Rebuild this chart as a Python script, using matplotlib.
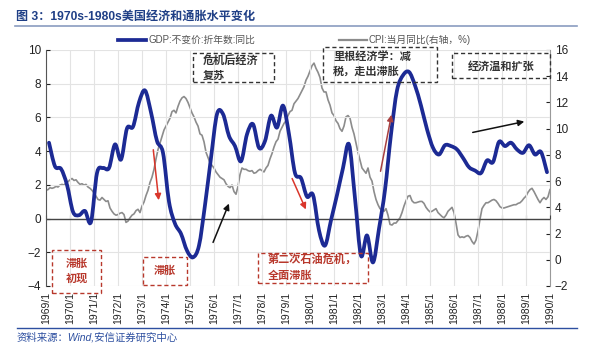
import numpy as np
import matplotlib
matplotlib.use("Agg")
import matplotlib.pyplot as plt
from matplotlib.path import Path
from matplotlib.patches import PathPatch, Rectangle, FancyArrowPatch
from matplotlib.lines import Line2D

plt.rcParams['font.family'] = ['Liberation Sans', 'Noto Sans CJK SC']

# ========================= Data =========================
first_year = 1969
last_year = 1990

# GDP constant price, annualised, yoy (%), quarterly 1969Q1 - 1989Q4
gdp_yoy = [
    4.5, 3.1, 2.95, 2.0,      # 1969
    0.4, 0.2, 0.45, -0.2,     # 1970
    2.7, 3.0, 3.0, 4.4,       # 1971
    3.5, 5.35, 5.45, 6.9,     # 1972
    7.6, 6.3, 4.6, 3.9,       # 1973
    1.0, -0.3, -0.9, -1.9,    # 1974
    -2.3, -1.6, 0.8, 3.6,     # 1975
    6.2, 6.2, 4.9, 4.3,       # 1976
    3.4, 5.0, 5.6, 4.2,       # 1977
    4.6, 6.1, 5.4, 6.7,       # 1978
    5.0, 2.7, 2.4, 1.3,       # 1979
    1.4, -0.7, -1.6, -0.1,    # 1980
    1.4, 3.0, 4.4, 1.2,       # 1981
    -2.2, -1.0, -2.6, -0.6,   # 1982
    1.7, 5.0, 7.6, 8.5,       # 1983
    8.7, 7.9, 6.7, 5.3,       # 1984
    4.2, 3.8, 4.35, 4.3,      # 1985
    4.1, 3.6, 3.05, 2.85,     # 1986
    2.7, 3.45, 3.35, 4.55,    # 1987
    4.3, 4.5, 4.1, 3.9,       # 1988
    4.35, 3.8, 3.95, 2.75,    # 1989
]

# CPI yoy (%), monthly 1969/1 - 1990/1
cpi_yoy = [
    5.3, 5.35, 5.5, 5.45, 5.5, 5.6, 5.55, 5.7, 5.75, 5.7, 5.85, 5.95,
    6.1, 6.2, 6.05, 6.1, 5.9, 5.75, 5.8, 5.7, 5.75, 5.55, 5.45, 5.3,
    5.1, 4.85, 4.6, 4.55, 4.75, 4.6, 4.45, 4.5, 3.95, 3.7, 3.5, 3.4,
    3.45, 3.55, 3.6, 3.45, 2.85, 2.95, 3.2, 3.4, 3.5, 3.75, 3.85, 3.6,
    4.1, 4.4, 4.9, 5.3, 5.9, 6.3, 6.9, 7.7, 8.4, 8.9, 9.4, 9.9,
    10.2, 10.5, 10.8, 11.3, 11.4, 11.2, 11.7, 12.1, 12.35, 12.45, 12.3, 12.0,
    11.6, 11.2, 10.9, 10.5, 10.2, 9.6, 9.5, 9.0, 8.2, 7.8, 7.4, 7.2,
    7.0, 6.7, 6.5, 6.3, 6.2, 6.1, 5.8, 5.6, 5.5, 5.7, 5.2, 5.0,
    5.6, 6.5, 7.0, 6.9, 6.9, 6.8, 6.75, 6.8, 6.6, 6.65, 6.8, 6.9,
    6.8, 6.7, 7.0, 7.2, 7.7, 8.1, 8.6, 9.0, 9.2, 9.8, 10.1, 10.4,
    10.6, 11.0, 11.3, 11.4, 11.9, 12.1, 12.3, 12.6, 12.9, 13.2, 13.7, 14.0,
    14.4, 14.8, 15.0, 14.6, 14.3, 13.9, 13.1, 12.8, 12.8, 12.2, 11.8, 11.2,
    11.0, 10.6, 10.4, 10.0, 9.8, 10.2, 10.9, 11.0, 10.8, 10.1, 9.6, 8.9,
    8.2, 7.6, 7.0, 6.8, 6.6, 7.0, 6.3, 6.0, 5.2, 4.6, 4.2, 3.9,
    3.8, 3.7, 3.9, 3.4, 2.7, 2.65, 2.8, 2.8, 3.0, 3.2, 3.6, 4.1,
    4.5, 4.85, 4.9, 4.5, 4.35, 4.35, 4.4, 4.45, 4.45, 4.3, 4.0, 3.8,
    3.65, 3.7, 3.8, 3.9, 3.6, 3.45, 3.3, 3.2, 3.4, 3.7, 3.85, 4.0,
    3.6, 2.8, 1.9, 1.7, 1.75, 1.7, 1.8, 1.85, 1.7, 1.4, 1.2, 1.5,
    2.2, 3.1, 3.9, 4.15, 4.35, 4.35, 4.45, 4.55, 4.6, 4.5, 4.3, 4.05,
    3.95, 3.95, 4.0, 4.05, 4.1, 4.15, 4.2, 4.2, 4.3, 4.35, 4.5, 4.7,
    4.85, 5.15, 5.35, 5.45, 5.2, 4.9, 4.6, 4.35, 4.6, 4.75, 4.6, 4.8,
    5.35,
]

tick_years = list(range(first_year, last_year + 1))
tick_labels = [f"{y}/1" for y in tick_years]

gdp_label = "GDP:不变价:折年数:同比"
cpi_label = "CPI:当月同比(右轴，%)"

GDP_COLOR = '#1c2a94'
CPI_COLOR = '#8c8c8c'
RED = '#d9362b'
BOX_RED = '#b8382c'


def smooth_path(x, y):
    # Catmull-Rom -> cubic bezier, like a spreadsheet "smoothed line"
    pts = np.column_stack([x, y])
    pad = np.vstack([pts[0], pts, pts[-1]])
    verts = [pts[0]]
    codes = [Path.MOVETO]
    for i in range(1, len(pad) - 2):
        p0, p1, p2, p3 = pad[i - 1], pad[i], pad[i + 1], pad[i + 2]
        verts += [p1 + (p2 - p0) / 6, p2 - (p3 - p1) / 6, p2]
        codes += [Path.CURVE4] * 3
    return Path(verts, codes)


def fig_px(x, y):
    return (x / 600, 1 - y / 355)


# ========================= Plot =========================
fig = plt.figure(figsize=(6, 3.55), dpi=100)
ax = fig.add_axes([46 / 600, 1 - 286 / 355, 504 / 600, 236 / 355])
ax2 = ax.twinx()

gdp_x = np.array([y + (q * 3 + 1.5) / 12 for y in range(first_year, first_year + len(gdp_yoy) // 4) for q in range(4)])
cpi_x = first_year + np.arange(len(cpi_yoy)) / 12

ax2.plot(cpi_x, cpi_yoy, color=CPI_COLOR, lw=1.2, zorder=2)
ax.add_patch(PathPatch(smooth_path(gdp_x, gdp_yoy), fill=False, ec=GDP_COLOR, lw=2.7,
                       capstyle='round', joinstyle='round', zorder=3))
ax.set_zorder(ax2.get_zorder() + 1)
ax.patch.set_visible(False)

ax.set_xlim(first_year, last_year)
ax.set_ylim(-4, 10)
ax.set_yticks(range(-4, 11, 2))
ax2.set_ylim(-2, 16)
ax2.set_yticks(range(-2, 17, 2))

ax.set_xticks(tick_years)
ax.set_xticklabels(tick_labels, rotation=90, fontsize=7.5, color='#222222')
ax.tick_params(axis='x', length=0, pad=4)
ax.tick_params(axis='y', labelsize=8.5, colors='#222222', length=3, direction='in')
ax2.tick_params(axis='y', labelsize=8.5, colors='#222222', length=3, direction='in')

ax.grid(True, color='#e3e3e3', lw=0.8)
ax.set_axisbelow(True)
for sp in ['top', 'bottom']:
    ax.spines[sp].set_visible(False)
    ax2.spines[sp].set_visible(False)
ax.spines['left'].set_color('#555555')
ax2.spines['left'].set_visible(False)
ax2.spines['right'].set_color('#999999')
ax.spines['right'].set_visible(False)

# zero line with year ticks
ax.axhline(0, color='#444444', lw=1.0, zorder=1)
zero_axis = ax.secondary_xaxis(4 / 14)
zero_axis.set_xticks(tick_years)
zero_axis.set_xticklabels([])
zero_axis.tick_params(length=3, color='#444444', direction='in')
zero_axis.spines['bottom'].set_visible(False)

# legend
handles = [Line2D([], [], color=GDP_COLOR, lw=2.7), Line2D([], [], color=CPI_COLOR, lw=1.6)]
fig.legend(handles, [gdp_label, cpi_label], loc='center', ncol=2, frameon=False,
           bbox_to_anchor=(0.491, 1 - 40 / 355), fontsize=7, labelcolor='#555555',
           handlelength=2.9, handletextpad=0.2, columnspacing=8.6)


# annotation boxes (pixel layout: x0, y0, x1, y1)
def note_box(x0, y0, x1, y1, color, lines, tx, ty, ha='left'):
    fx0, fy1 = fig_px(x0, y1)
    fx1, fy0 = fig_px(x1, y0)
    fig.patches.append(Rectangle((fx0, fy1), fx1 - fx0, fy0 - fy1, transform=fig.transFigure,
                                 fill=False, ec=color, ls=(0, (3, 2)), lw=1.0, zorder=5))
    fig.text(*fig_px(tx, ty), lines, color=color, fontsize=8, fontweight='bold',
             ha=ha, va='center', linespacing=1.5, zorder=6)


note_box(193, 53, 274, 82, '#333333', "危机后经济\n复苏", 203, 68)
note_box(323, 47, 437, 82, '#333333', "里根经济学：减\n税，走出滞胀", 333, 64)
note_box(452, 53, 550, 78, '#333333', "经济温和扩张", 501, 66, ha='center')
note_box(52, 250, 101, 293, BOX_RED, "滞胀\n初现", 76.5, 271, ha='center')
note_box(143, 257, 187, 285, BOX_RED, "滞胀", 165, 271, ha='center')
note_box(258, 253, 368, 283, BOX_RED, "第二次石油危机，\n全面滞胀", 268, 268)


# arrows
def arrow(p0, p1, color):
    fig.add_artist(FancyArrowPatch(fig_px(*p0), fig_px(*p1), transform=fig.transFigure,
                                   arrowstyle='-|>', mutation_scale=9, color=color, lw=1.1, zorder=6))


arrow((153, 147), (159, 203), RED)
arrow((291, 176), (307, 212), RED)
arrow((380, 174), (392, 112), '#a84040')
arrow((212, 245), (230, 201), '#111111')
arrow((470, 133), (527, 121), '#111111')

# title and source
fig.text(16 / 600, 1 - 17 / 355, "图 3：1970s-1980s美国经济和通胀水平变化", fontsize=8.7,
         fontweight='bold', color='#1f3f86', va='center')
fig.add_artist(Line2D([15 / 600, 577 / 600], [1 - 26 / 355] * 2, color='#8a9cc0', lw=1.2))
fig.add_artist(Line2D([17 / 600, 577 / 600], [1 - 328 / 355] * 2, color='#2d4fa0', lw=1.0))
fig.text(17 / 600, 1 - 337 / 355, "资料来源：Wind,安信证券研究中心", fontsize=7.5,
         style='italic', color='#2d4fa0', va='center')

fig.savefig("out.png", dpi=100)
